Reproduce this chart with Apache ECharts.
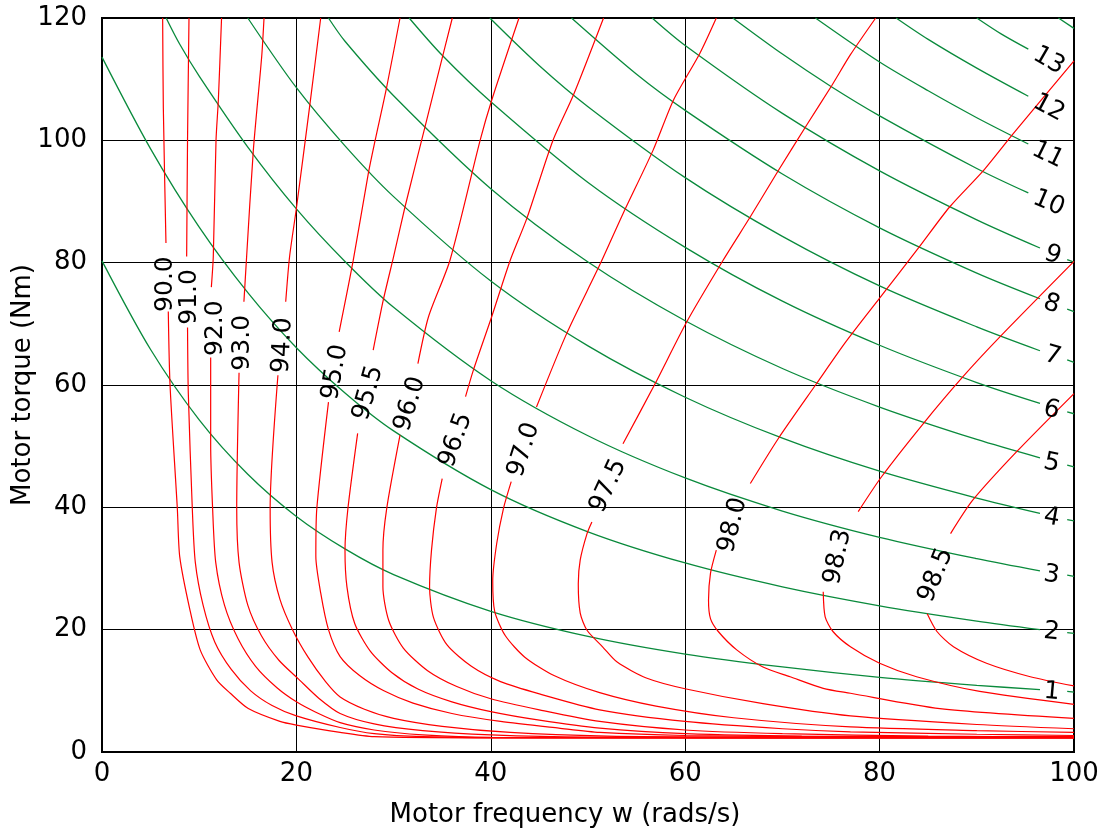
<!DOCTYPE html>
<html>
<head>
<meta charset="utf-8">
<script src="https://cdn.jsdelivr.net/npm/echarts@6/dist/echarts.min.js"></script>
<style>
  html, body { margin: 0; padding: 0; background: #fff; }
  #chart { width: 1111px; height: 829px; }
</style>
</head>
<body>
<div id="chart"></div>
<script>
// gap marker: breaks a contour where its inline label sits
const GAP = ['-', '-'];

// power contours (kW), [w, T] points
const pow1 = [[0,80.3],[5,65.8],[10,54.3],[15,45.4],[20,38.5],[25,33.2],[30,29.0],[40,23.0],[50,18.9],[60,16.0],[70,13.9],[80,12.2],[90,10.9],[96.5,10.2],GAP,[99.3,9.9],[100,9.8]];
const pow2 = [[0,113.6],[5,98.6],[10,85.8],[15,75.1],[20,66.1],[25,58.7],[30,52.5],[40,42.9],[50,36.0],[60,30.9],[70,27.0],[80,23.9],[90,21.4],[96.5,20.0],GAP,[99.3,19.5],[100,19.4]];
const pow3 = [[6.6,120],[8,115.7],[10,110.5],[15,98.9],[20,88.8],[25,80.2],[30,72.7],[40,60.7],[50,51.7],[60,44.8],[70,39.4],[80,35.1],[90,31.6],[96.5,29.6],GAP,[99.3,28.9],[100,28.7]];
const pow4 = [[15.0,120],[20,108.6],[25,99.1],[30,90.8],[40,77.0],[50,66.4],[60,58.0],[70,51.3],[80,45.9],[90,41.5],[96.5,39.0],GAP,[99.3,38.0],[100,37.8]];
const pow5 = [[23.3,120],[25,116.2],[30,107.3],[40,92.1],[50,80.1],[60,70.5],[70,62.7],[80,56.4],[90,51.1],[96.5,48.1],GAP,[99.3,46.9],[100,46.6]];
const pow6 = [[31.6,120],[35,113.9],[40,106.3],[50,93.1],[60,82.5],[70,73.7],[80,66.5],[90,60.4],[96.5,57.0],GAP,[99.3,55.6],[100,55.3]];
const pow7 = [[39.9,120],[45,112.2],[50,105.5],[60,93.9],[70,84.3],[80,76.2],[90,69.5],[96.5,65.6],GAP,[99.3,64.1],[100,63.7]];
const pow8 = [[48.3,120],[55,110.8],[60,104.9],[70,94.5],[80,85.7],[90,78.3],[96.5,74.1],GAP,[99.3,72.4],[100,72.0]];
const pow9 = [[56.6,120],[60,115.5],[70,104.4],[80,95.0],[90,87.0],[96.5,82.4],GAP,[99.3,80.5],[100,80.1]];
const pow10 = [[64.9,120],[70,114.1],[75,108.8],[80,104.0],[90,95.4],[95.3,91.4]];
const pow11 = [[73.4,120],[80,112.8],[85,108.1],[90,103.7],[95.3,99.4]];
const pow12 = [[81.7,120],[85,116.5],[90,111.8],[95.3,107.2]];
const pow13 = [[90.0,120],[92.5,117.4],[95.3,114.9]];
const pow14 = [[98.4,120],[100,118.3]];

// efficiency contours (%), [w, T]
const eff900 = [[6.24,120],[6.31,105.3],[6.58,83.2],GAP,[6.82,72],[7.0,60],[7.75,39.8],[8.0,31.9],[9.05,23.2],[10.1,16.7],[11.8,11.8],[13.2,9.6],[15.05,7.1],[18.3,5.0],[20,4.4],[24.5,3.2],[28,2.5],[40,2.3],[100,2.25]];
const eff910 = [[8.95,120],[8.8,100],[8.71,81],GAP,[8.8,69.4],[8.88,58.6],[9.29,39.8],[9.6,31],[10.4,24],[11.6,18],[13.3,13.5],[15.3,10],[17.5,7.6],[20,5.9],[24.5,4.0],[28,3.0],[33,2.5],[45,2.3],[100,2.3]];
const eff920 = [[12.3,120],[11.97,106.6],[11.73,100],[11.45,81],[11.25,76],GAP,[11.18,64.5],[11.18,50.4],[11.38,39.8],[11.7,31],[12.6,24],[14,18.5],[15.8,14],[18,10.5],[20,8.2],[22,6.5],[24.5,4.8],[28,3.6],[33,2.8],[40,2.4],[100,2.35]];
const eff930 = [[16.67,120],[16.43,113.7],[15.57,98.4],[14.88,81],[14.6,73.6],GAP,[14.1,62],[13.86,39.8],[14.1,31],[15,24],[16.4,19],[18.2,15],[20.3,11.8],[22.3,8.8],[24.5,6.3],[28,4.6],[33,3.5],[40,2.8],[50,2.45],[100,2.4]];
const eff940 = [[22.5,120],[21.4,106],[20.0,88.9],[19.3,81],[18.9,73.6],GAP,[18.1,61.6],[17.3,39.8],[17.5,31],[18.3,25],[19.6,20],[21.2,15.5],[23,11.5],[24.5,9.0],[27,7],[30,5.5],[35,4.2],[42,3.2],[52,2.6],[65,2.45],[100,2.4]];
const eff950 = [[30.66,120],[29.3,108.8],[28.1,100],[27.4,94.6],[25.85,80.4],[24.4,68.7],GAP,[23.3,57.2],[22.1,39.8],[22.0,32],[22.5,26],[23.3,20],[24.5,15.6],[26.5,12.5],[29,10],[32,8],[36,6.3],[41,5.0],[47,3.9],[51.2,3.2],[60,2.7],[75,2.5],[100,2.45]];
const eff955 = [[36.04,120],[34.77,112],[33.23,102.2],[31.17,89.1],[30.0,81],[28.94,73.9],[27.9,65.7],GAP,[26.3,52.1],[25.3,39.8],[25.0,33],[25.2,27],[26,21],[27.6,16.5],[29.8,13],[32.5,10.3],[36,8.2],[40,6.6],[45,5.2],[51.2,3.9],[60,3.0],[72,2.6],[100,2.5]];
const eff960 = [[42.9,120],[40.1,106.6],[38.9,100],[35.8,80.4],[33.6,71.2],[32.5,63.5],GAP,[30.66,51.8],[29.29,39.8],[28.9,33],[28.9,27],[29.5,21.5],[31,17],[33.5,13.3],[36.5,10.7],[40,8.7],[45,6.9],[51.2,5.0],[60,3.6],[70,3.0],[85,2.6],[100,2.5]];
const eff965 = [[51.6,120],[48.5,107.4],[46.4,100],[43.7,87.2],[42.0,80.4],[40.1,71.2],[38.2,62.4],[37.4,58.1],GAP,[35.0,44.7],[34.4,39.8],[33.9,33],[33.7,27],[34.1,22],[35.5,17.5],[38,14],[41,11.5],[45,9.5],[51.2,6.9],[60,5.0],[70,3.8],[77,3.3],[90,2.9],[100,2.7]];
const eff970 = [[63.2,120],[61.5,114.2],[58.8,106.6],[56.7,98.4],[53.6,88],[51.2,79.6],[47.8,68.4],[44.7,56.4],GAP,[42.1,44.2],[41.3,39.8],[40.6,34],[40.2,28],[40.4,23],[41.5,19],[43.5,15.5],[46.5,12.5],[51.2,9.7],[57,7.5],[65,5.6],[77,4.1],[90,3.5],[100,3.2]];
const eff975 = [[79.6,120],[77.0,114],[75.1,109],[72.5,102.5],[69.6,95.1],[66.7,87.5],[63.9,80.4],[60.15,70.3],[56.9,60.2],[53.6,50.4],GAP,[50.4,37.6],[49.9,35.7],[49.2,31.4],[49.0,27.5],[49.2,22.7],[49.9,19.9],[51.5,17.2],[53,14.7],[56,12.1],[60.1,10.3],[68,7.9],[77,5.9],[90,4.5],[100,3.8]];
const eff980 = [[100,113.0],[93.75,101.1],[90.7,95.1],[87.2,89.1],[84.0,82.4],[80.0,74.2],[76.5,67],[73.5,60.2],[69.6,51.3],[66.7,43.9],GAP,[63.2,33.0],[62.6,29.2],[62.4,24.8],[62.6,21.8],[63.4,19.7],[65.3,16.7],[68.0,13.9],[70.8,12.3],[74.2,10.4],[77.0,9.6],[86.2,7.1],[100,5.5]];
const eff983 = [[100,80.2],[92.4,67.9],[88.6,61.4],[84.5,53.7],[80.2,45.0],[77.8,39.3],GAP,[74.2,26.2],[74.4,22.1],[75.2,19.7],[77.0,17.2],[80,14.5],[83.8,12.3],[90.3,9.9],[100,7.8]];
const eff985 = [[100,58.6],[94.1,49.1],[89.6,41.2],[87.3,35.7],GAP,[84.9,22.6],[85.9,19.7],[87.6,17.2],[91,14.5],[95.5,12.3],[100,10.8]];

// inline labels: [text, w, T]
const effLabels = [['90.0',6.5,76.5],['91.0',9.05,74.4],['92.0',11.7,69.3],['93.0',14.5,66.9],['94.0',18.6,66.5],['95.0',24.0,62.1],['95.5',27.4,58.7],['96.0',31.7,56.9],['96.5',36.4,51.0],['97.0',43.4,49.4],['97.5',52.1,43.5],['98.0',64.9,37.1],['98.3',75.7,31.9],['98.5',85.8,28.9]];
const effLabelAngles = [90,90,90,90,87,80,74,73,70,72,65,76,78,68];
const powLabels = [['1',97.7,9.8],['2',97.7,19.6],['3',97.7,28.9],['4',97.7,38.3],['5',97.7,47.2],['6',97.7,55.9],['7',97.8,64.7],['8',97.7,73.2],['9',97.8,81.2],['10',97.4,89.7],['11',97.3,97.6],['12',97.4,105.3],['13',97.4,113.0]];
const powLabelAngles = [-5,-6,-8,-10,-12,-14,-16,-18,-20,-23,-26,-28,-30];

const xTicks = [0, 20, 40, 60, 80, 100];
const yTicks = [0, 20, 40, 60, 80, 100, 120];

const FONT = 'DejaVu Sans';
const powCurves = [pow1, pow2, pow3, pow4, pow5, pow6, pow7, pow8, pow9, pow10, pow11, pow12, pow13, pow14];
const effCurves = [eff900, eff910, eff920, eff930, eff940, eff950, eff955, eff960, eff965, eff970, eff975, eff980, eff983, eff985];

const series = [];
powCurves.forEach((d, i) => {
  series.push({
    name: 'P' + (i + 1), type: 'line', data: d, showSymbol: false, smooth: 0.3,
    connectNulls: false, lineStyle: { color: '#0a8a3c', width: 1.3 }, z: 3
  });
});
effCurves.forEach((d, i) => {
  series.push({
    name: 'E' + i, type: 'line', data: d, showSymbol: false, smooth: 0.25,
    connectNulls: false, lineStyle: { color: '#ff0000', width: 1.2 }, z: 4
  });
});

// contour labels drawn as text at data coords
function labelSeries(list, angles) {
  return {
    type: 'custom', silent: true, z: 6, clip: false,
    data: list.map((l, i) => [l[1], l[2], i]),
    renderItem: function (params, api) {
      const i = api.value(2);
      const p = api.coord([api.value(0), api.value(1)]);
      return {
        type: 'text', x: p[0], y: p[1], rotation: angles[i] * Math.PI / 180,
        style: { text: list[i][0], fill: '#000', font: '25px "DejaVu Sans"',
          align: 'center', verticalAlign: 'middle' }
      };
    }
  };
}
series.push(labelSeries(effLabels, effLabelAngles));
series.push(labelSeries(powLabels, powLabelAngles));

const chart = echarts.init(document.getElementById('chart'), null, { renderer: 'canvas' });
chart.setOption({
  animation: false,
  backgroundColor: '#fff',
  grid: { left: 102, top: 18, right: 37, bottom: 77, show: true, borderColor: '#000', borderWidth: 2,
    containLabel: false, outerBoundsMode: 'none' },
  xAxis: {
    type: 'value', min: 0, max: 100, interval: 20,
    name: 'Motor frequency w (rads/s)', nameLocation: 'middle', nameGap: 50, nameMoveOverlap: false,
    nameTextStyle: { color: '#000', fontSize: 26, fontFamily: FONT, padding: [0, 46, 0, 0] },
    axisLine: { show: true, lineStyle: { color: '#000', width: 2 } },
    axisTick: { show: true, inside: true, length: 7, lineStyle: { color: '#000' } },
    axisLabel: { color: '#000', fontSize: 26, fontFamily: FONT, margin: 9,
      formatter: v => xTicks.includes(v) ? String(v) : '' },
    splitLine: { show: true, lineStyle: { color: '#000', width: 1 } }
  },
  yAxis: {
    type: 'value', min: 0, max: 120, interval: 20,
    name: 'Motor torque (Nm)', nameLocation: 'middle', nameGap: 66, nameMoveOverlap: false,
    nameTextStyle: { color: '#000', fontSize: 26, fontFamily: FONT },
    axisLine: { show: true, lineStyle: { color: '#000', width: 2 } },
    axisTick: { show: true, inside: true, length: 7, lineStyle: { color: '#000' } },
    axisLabel: { color: '#000', fontSize: 26, fontFamily: FONT, margin: 15,
      formatter: v => yTicks.includes(v) ? String(v) : '' },
    splitLine: { show: true, lineStyle: { color: '#000', width: 1 } }
  },
  series: series
});
</script>
</body>
</html>
